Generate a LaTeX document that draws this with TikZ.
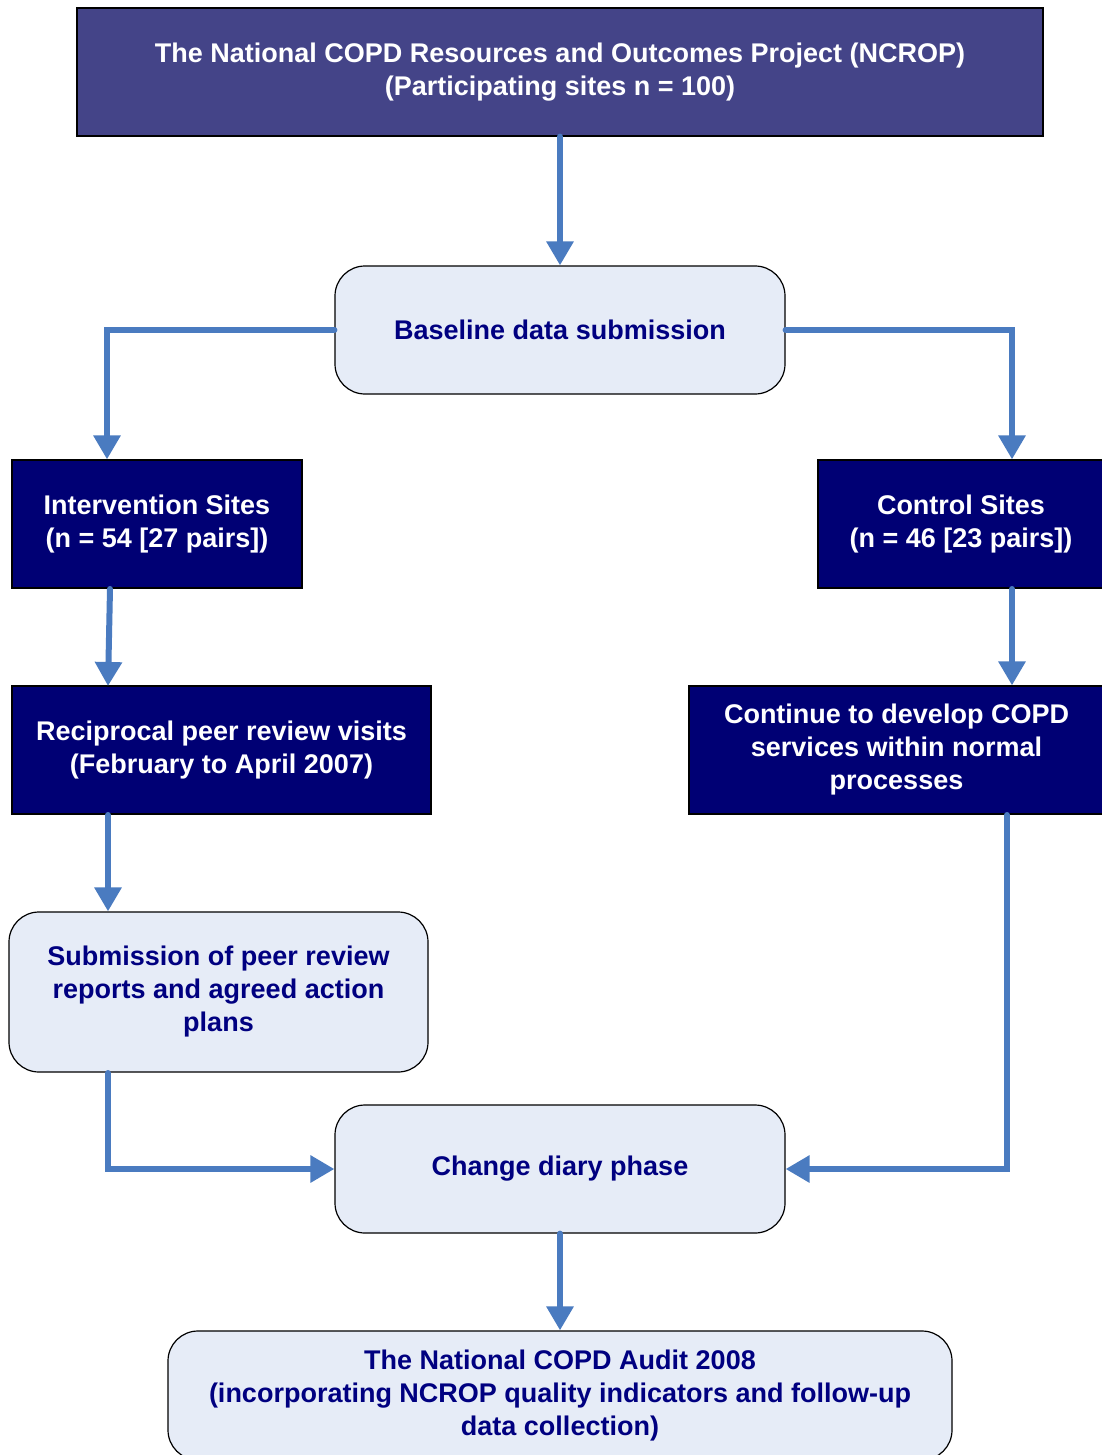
\documentclass[tikz,border=0pt]{standalone}
\usepackage{fontspec}
\setmainfont{Liberation Sans}
\usetikzlibrary{arrows.meta,calc}
\definecolor{topfill}{HTML}{444488}
\definecolor{darkfill}{HTML}{000074}
\definecolor{lightfill}{HTML}{E6ECF7}
\definecolor{navytext}{HTML}{000080}
\definecolor{arrowblue}{HTML}{4A7BC0}
\begin{document}
\begin{tikzpicture}[x=1pt,y=-1pt,
  every node/.style={font=\fontsize{27}{33}\selectfont\bfseries, align=center, inner sep=0pt},
  topbox/.style={draw=black, line width=1.2pt, fill=topfill, text=white, minimum height=128pt},
  darkbox/.style={draw=black, line width=1.2pt, fill=darkfill, text=white, minimum height=128pt},
  lightbox/.style={draw=black, line width=1.2pt, fill=lightfill, text=navytext, rounded corners=30pt, minimum height=128pt},
  conn/.style={draw=arrowblue, line width=6pt, line cap=round, line join=miter, -{Triangle[width=26pt,length=24pt]}}
]
\useasboundingbox (0,0) rectangle (1101,1455);
\fill[white] (0,0) rectangle (1101,1455);

\node[topbox, minimum width=966pt] (top) at (560,72) {The National COPD Resources and Outcomes Project (NCROP)\\(Participating sites n = 100)};
\node[lightbox, minimum width=450pt] (base) at (560,330) {Baseline data submission};
\node[darkbox, minimum width=290pt] (inter) at (157,524) {Intervention Sites\\(n = 54 [27 pairs])};
\node[darkbox, minimum width=286pt] (ctrl) at (961,524) {Control Sites\\(n = 46 [23 pairs])};
\node[darkbox, minimum width=419pt] (recip) at (221.5,750) {Reciprocal peer review visits\\(February to April 2007)};
\node[darkbox, minimum width=415pt] (cont) at (896.5,750) {Continue to develop COPD\\services within normal\\processes};
\node[lightbox, minimum width=419pt, minimum height=160pt] (sub) at (218.5,992) {Submission of peer review\\reports and agreed action\\plans};
\node[lightbox, minimum width=450pt] (chg) at (560,1169) {Change diary phase};
\node[lightbox, minimum width=784pt, minimum height=129pt] (audit) at (560,1395.5) {The National COPD Audit 2008\\(incorporating NCROP quality indicators and follow-up\\data collection)};

\coordinate (bl) at (107,330);
\coordinate (br) at (1012,330);
\coordinate (i1) at (110,589);
\coordinate (r1) at (108,686);
\coordinate (r2) at (108,815);
\coordinate (c1) at (1012,589);
\coordinate (s1) at (108,1073);
\coordinate (s2) at (108,1169);
\coordinate (k1) at (1007,815);
\coordinate (k2) at (1007,1169);

\draw[conn] (top.south) -- (base.north);
\draw[conn] (base.west) -- (bl) -- (bl |- inter.north);
\draw[conn] (base.east) -- (br) -- (br |- ctrl.north);
\draw[conn] (i1) -- (r1);
\draw[conn] (c1) -- (c1 |- cont.north);
\draw[conn] (r2) -- (r2 |- sub.north);
\draw[conn] (s1) -- (s2) -- (chg.west);
\draw[conn] (k1) -- (k2) -- (chg.east);
\draw[conn] (chg.south) -- (audit.north);
\end{tikzpicture}
\end{document}
